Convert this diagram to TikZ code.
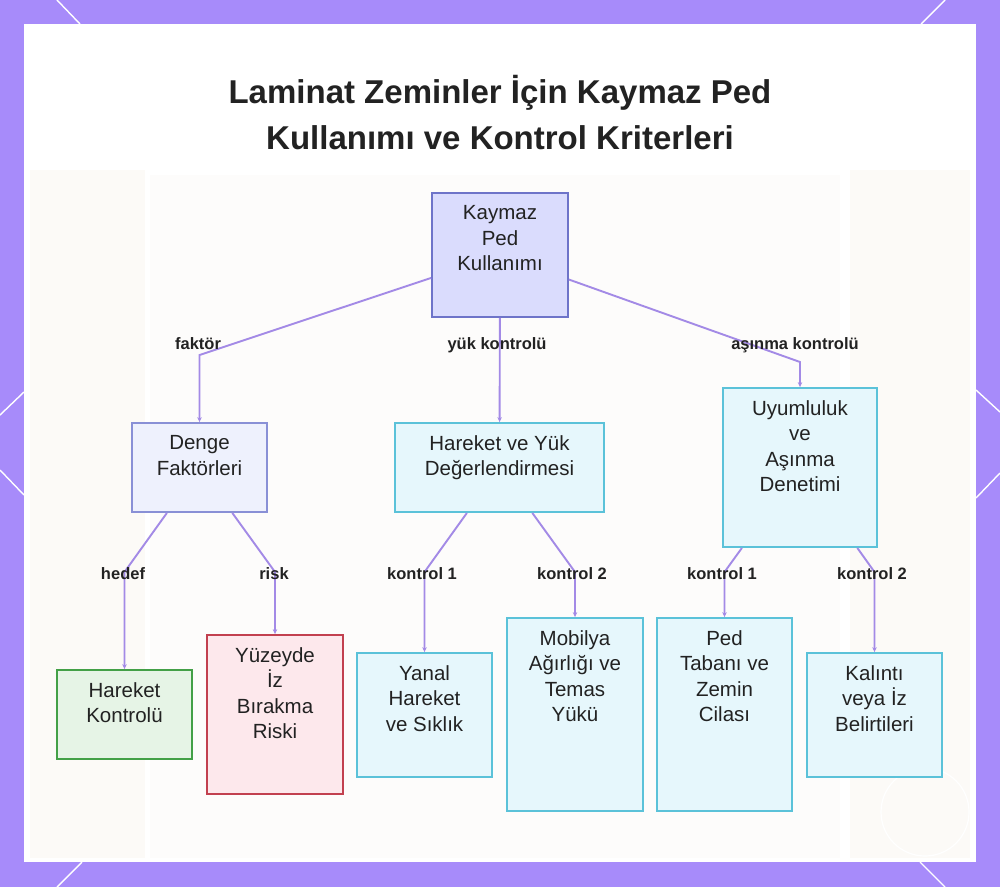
\documentclass[tikz,border=0pt]{standalone}
\usepackage{fontspec}
\setmainfont{Liberation Sans}
\usetikzlibrary{arrows.meta}
\definecolor{bgpurple}{HTML}{A78BFA}
\definecolor{edgec}{HTML}{A38AE6}
\definecolor{txtc}{HTML}{222222}
\definecolor{rootfill}{HTML}{DADCFD}
\definecolor{rootdraw}{HTML}{6E74C9}
\definecolor{dengefill}{HTML}{EEF1FD}
\definecolor{dengedraw}{HTML}{8990D6}
\definecolor{cyanfill}{HTML}{E6F7FC}
\definecolor{cyandraw}{HTML}{5BC2D9}
\definecolor{greenfill}{HTML}{E6F4E6}
\definecolor{greendraw}{HTML}{43A047}
\definecolor{redfill}{HTML}{FDE8EC}
\definecolor{reddraw}{HTML}{C2404F}
\definecolor{faint}{HTML}{FCF9F6}
\begin{document}
\begin{tikzpicture}[x=1pt,y=-1pt,
  box/.style={draw, line width=1.8pt, rectangle, inner sep=0pt},
  txt/.style={anchor=north, align=center, inner sep=0pt, text=txtc,
    font=\fontsize{20.5}{25.5}\selectfont},
  elabel/.style={anchor=base, inner sep=0pt, text=txtc,
    font=\bfseries\fontsize{16.5}{18}\selectfont},
  edge/.style={draw=edgec, line width=1.9pt, -{Stealth[length=5pt,width=4.5pt]}},
  title/.style={anchor=base, inner sep=0pt, text=txtc,
    font=\bfseries\fontsize{33}{40}\selectfont},
  deco/.style={draw=white, line width=1.4pt}
]
\useasboundingbox (0,0) rectangle (1000,887);
% background
\fill[bgpurple] (0,0) rectangle (1000,887);
\draw[deco] (57,0) -- (80,24);
\draw[deco] (945,0) -- (921,24);
\draw[deco] (24,392) -- (0,415);
\draw[deco] (0,470) -- (24,495);
\draw[deco] (976,390) -- (1000,412);
\draw[deco] (1000,473) -- (976,498);
\draw[deco] (82,862) -- (57,887);
\draw[deco] (920,862) -- (945,887);
\fill[white] (24,24) rectangle (976,862);
\fill[faint,opacity=0.8] (30,170) rectangle (145,858);
\fill[faint,opacity=0.4] (150,175) rectangle (840,858);
\fill[faint,opacity=0.8] (850,170) rectangle (970,858);
\draw[draw=white, line width=1.2pt] (925,812) circle (44);

% title
\node[title] (title1) at (500,103) {Laminat Zeminler İçin Kaymaz Ped};
\node[title] (title2) at (500,149) {Kullanımı ve Kontrol Kriterleri};

% boxes
\node[box, fill=rootfill, draw=rootdraw, minimum width=136pt, minimum height=124pt] (root) at (500,255) {};
\node[box, fill=dengefill, draw=dengedraw, minimum width=135pt, minimum height=89pt] (denge) at (199.5,467.5) {};
\node[box, fill=cyanfill, draw=cyandraw, minimum width=209pt, minimum height=89pt] (hyuk) at (499.5,467.5) {};
\node[box, fill=cyanfill, draw=cyandraw, minimum width=154pt, minimum height=159pt] (uyum) at (800,467.5) {};
\node[box, fill=greenfill, draw=greendraw, minimum width=135pt, minimum height=89pt] (hkont) at (124.5,714.5) {};
\node[box, fill=redfill, draw=reddraw, minimum width=136pt, minimum height=159pt] (risk) at (275,714.5) {};
\node[box, fill=cyanfill, draw=cyandraw, minimum width=135pt, minimum height=124pt] (yanal) at (424.5,715) {};
\node[box, fill=cyanfill, draw=cyandraw, minimum width=136pt, minimum height=193pt] (mob) at (575,714.5) {};
\node[box, fill=cyanfill, draw=cyandraw, minimum width=135pt, minimum height=193pt] (ped) at (724.5,714.5) {};
\node[box, fill=cyanfill, draw=cyandraw, minimum width=135pt, minimum height=124pt] (kal) at (874.5,715) {};

% box texts
\node[txt] (roott) at ([yshift=-13.2pt]root.north) {Kaymaz\\Ped\\Kullanımı};
\node[txt] (denget) at ([yshift=-13.2pt]denge.north) {Denge\\Faktörleri};
\node[txt] (hyukt) at ([yshift=-13.2pt]hyuk.north) {Hareket ve Yük\\Değerlendirmesi};
\node[txt] (uyumt) at ([yshift=-13.2pt]uyum.north) {Uyumluluk\\ve\\Aşınma\\Denetimi};
\node[txt] (hkontt) at ([yshift=-13.2pt]hkont.north) {Hareket\\Kontrolü};
\node[txt] (riskt) at ([yshift=-13.2pt]risk.north) {Yüzeyde\\İz\\Bırakma\\Riski};
\node[txt] (yanalt) at ([yshift=-13.2pt]yanal.north) {Yanal\\Hareket\\ve Sıklık};
\node[txt] (mobt) at ([yshift=-13.2pt]mob.north) {Mobilya\\Ağırlığı ve\\Temas\\Yükü};
\node[txt] (pedt) at ([yshift=-13.2pt]ped.north) {Ped\\Tabanı ve\\Zemin\\Cilası};
\node[txt] (kalt) at ([yshift=-13.2pt]kal.north) {Kalıntı\\veya İz\\Belirtileri};

% bend points
\coordinate (b1) at (199.5,355);
\coordinate (b3) at (800,362);
\coordinate (c1) at (124.5,572);
\coordinate (c2) at (275,572);
\coordinate (c3) at (424.5,572);
\coordinate (c4) at (575,572);
\coordinate (c5) at (724.5,572);
\coordinate (c6) at (874.5,572);

% edges
\draw[edge] (root) -- (b1) -- (denge);
\draw[edge] (root) -- (hyuk);
\draw[edge] (root) -- (b3) -- (uyum);
\draw[edge] (denge) -- (c1) -- (hkont);
\draw[edge] (denge) -- (c2) -- (risk);
\draw[edge] (hyuk) -- (c3) -- (yanal);
\draw[edge] (hyuk) -- (c4) -- (mob);
\draw[edge] (uyum) -- (c5) -- (ped);
\draw[edge] (uyum) -- (c6) -- (kal);

% edge labels
\node[elabel] (l1) at (198,349) {faktör};
\node[elabel] (l2) at (497,349) {yük kontrolü};
\node[elabel] (l3) at (795,349) {aşınma kontrolü};
\node[elabel] (l4) at (123,579) {hedef};
\node[elabel] (l5) at (274,579) {risk};
\node[elabel] (l6) at (422,579) {kontrol 1};
\node[elabel] (l7) at (572,579) {kontrol 2};
\node[elabel] (l8) at (722,579) {kontrol 1};
\node[elabel] (l9) at (872,579) {kontrol 2};
\end{tikzpicture}
\end{document}
